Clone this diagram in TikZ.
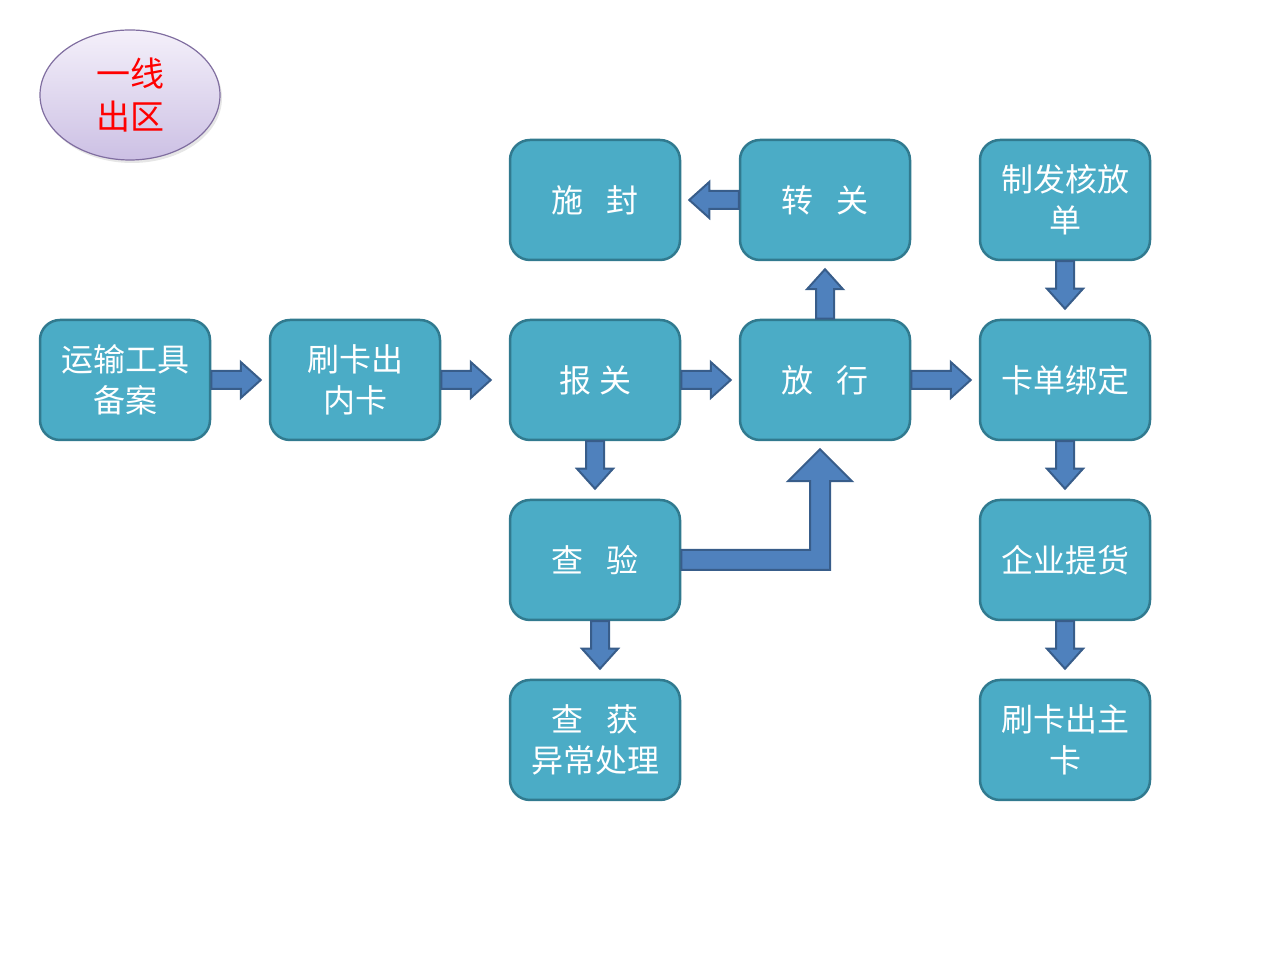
\documentclass[tikz,border=0pt]{standalone}
\usepackage{fontspec}
\newfontfamily\cjk{Noto Sans CJK SC}
\usepackage{xcolor}
\usepackage{tikz}
\usetikzlibrary{calc,positioning,shapes.geometric,shadows}

\definecolor{boxfill}{RGB}{75,172,198}
\definecolor{boxline}{RGB}{49,122,143}
\definecolor{arrfill}{RGB}{79,129,189}
\definecolor{arrline}{RGB}{56,93,138}
\definecolor{ovaltop}{RGB}{244,240,250}
\definecolor{ovalbot}{RGB}{204,192,228}
\definecolor{ovalline}{RGB}{128,110,160}

\tikzset{
  flowbox/.style={draw=boxline, line width=2.5pt, fill=boxfill, rounded corners=20pt,
    minimum width=170pt, minimum height=120pt, align=center, text=white,
    font=\cjk\fontsize{32}{41}\selectfont},
  blockarrow/.style={draw=arrline, line width=2pt, fill=arrfill, line join=miter},
}

% 块状箭头: 起点 -> 箭尖
\newcommand{\blockarr}[2]{%
  \coordinate (ba-s) at #1;
  \coordinate (ba-e) at #2;
  \coordinate (ba-b) at ($(ba-e)!20pt!(ba-s)$);
  \draw[blockarrow] ($(ba-s)!9pt!90:(ba-e)$) -- ($(ba-b)!9pt!90:(ba-e)$)
    -- ($(ba-b)!18pt!90:(ba-e)$) -- (ba-e) -- ($(ba-b)!18pt!-90:(ba-e)$)
    -- ($(ba-b)!9pt!-90:(ba-e)$) -- ($(ba-s)!9pt!-90:(ba-e)$) -- cycle;}

\begin{document}
\begin{tikzpicture}[x=1pt,y=1pt]
  \useasboundingbox (0,0) rectangle (1280,960);

  \node[ellipse, minimum width=180pt, minimum height=130pt, draw=ovalline, line width=1.2pt,
    top color=ovaltop, bottom color=ovalbot,
    drop shadow={opacity=0.2, shadow xshift=2pt, shadow yshift=-3pt},
    align=center, text=red, font=\cjk\fontsize{34}{43}\selectfont] (title) at (130,865) {一线\\出区};

  % 主线
  \node[flowbox] (yunshu)   at (125,580)  {运输工具\\备案};
  \node[flowbox] (neika)    at (355,580)  {刷卡出\\内卡};
  \node[flowbox] (baoguan)  at (595,580)  {报\hspace{0.25em}关};
  \node[flowbox] (fangxing) at (825,580)  {放\hspace{0.7em}行};
  \node[flowbox] (bangding) at (1065,580) {卡单绑定};
  % 上排
  \node[flowbox] (shifeng)   at (595,760)  {施\hspace{0.7em}封};
  \node[flowbox] (zhuanguan) at (825,760)  {转\hspace{0.7em}关};
  \node[flowbox] (hefang)    at (1065,760) {制发核放\\单};
  % 下排
  \node[flowbox] (chayan) at (595,400)  {查\hspace{0.7em}验};
  \node[flowbox] (tihuo)  at (1065,400) {企业提货};
  \node[flowbox] (chahuo) at (595,220)  {查\hspace{0.7em}获\\异常处理};
  \node[flowbox] (zhuka)  at (1065,220) {刷卡出主\\卡};

  \blockarr{(yunshu.east)}{([xshift=-8pt]neika.west)}
  \blockarr{(neika.east)}{([xshift=-18pt]baoguan.west)}
  \blockarr{(baoguan.east)}{([xshift=-8pt]fangxing.west)}
  \blockarr{(fangxing.east)}{([xshift=-8pt]bangding.west)}
  \blockarr{(zhuanguan.west)}{([xshift=8pt]shifeng.east)}
  \blockarr{(fangxing.north)}{([yshift=-8pt]zhuanguan.south)}
  \blockarr{(hefang.south)}{([yshift=10pt]bangding.north)}
  \blockarr{(baoguan.south)}{([yshift=10pt]chayan.north)}
  \blockarr{(bangding.south)}{([yshift=10pt]tihuo.north)}
  \blockarr{([xshift=5pt]chayan.south)}{([xshift=5pt,yshift=10pt]chahuo.north)}
  \blockarr{(tihuo.south)}{([yshift=10pt]zhuka.north)}

  % 查验 -> 放行 折线箭头
  \coordinate (cyfx) at ([xshift=-5pt,yshift=-8pt]fangxing.south);
  \coordinate (cybend) at (chayan.east -| cyfx);
  \draw[blockarrow] ([yshift=10pt]chayan.east) -- ([xshift=-10pt,yshift=10pt]cybend)
    -- ([xshift=-10pt,yshift=-32pt]cyfx) -- ([xshift=-32pt,yshift=-32pt]cyfx) -- (cyfx)
    -- ([xshift=32pt,yshift=-32pt]cyfx) -- ([xshift=10pt,yshift=-32pt]cyfx)
    -- ([xshift=10pt,yshift=-10pt]cybend) -- ([yshift=-10pt]chayan.east) -- cycle;
\end{tikzpicture}
\end{document}
